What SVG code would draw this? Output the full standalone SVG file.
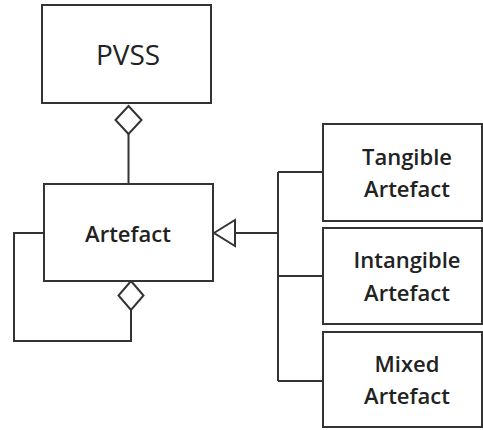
<svg xmlns="http://www.w3.org/2000/svg" width="483" height="430" viewBox="0 0 483 430">
<style>
.box{fill:#fff;stroke:#333;stroke-width:2}
.ln{fill:none;stroke:#333;stroke-width:2}
.hd{fill:#fff;stroke:#333;stroke-width:2}
text{font-family:"Open Sans","Liberation Sans",sans-serif;fill:#222;text-anchor:middle;font-weight:600}
.big{font-size:28px;font-weight:500}
.md{font-size:22px}
</style>
<rect width="483" height="430" fill="#fff"/>
<g id="connectors">
<line class="ln" x1="128.5" y1="134" x2="128.5" y2="184"/>
<polyline class="ln" points="131,310 131,341 14,341 14,233 44,233"/>
<line class="ln" x1="235" y1="233" x2="278" y2="233"/>
<line class="ln" x1="278" y1="172" x2="278" y2="381"/>
<line class="ln" x1="278" y1="172" x2="323" y2="172"/>
<line class="ln" x1="278" y1="276" x2="323" y2="276"/>
<line class="ln" x1="278" y1="381" x2="323" y2="381"/>
<polygon class="hd" points="128.5,106 141.5,120 128.5,134 115.5,120"/>
<polygon class="hd" points="131,281 143.5,295.5 131,310 118.5,295.5"/>
<polygon class="hd" points="214,233 235,220 235,246"/>
</g>
<g id="pvss">
<rect class="box" x="42" y="5" width="169" height="98"/>
<text class="big" x="128" y="65">PVSS</text>
</g>
<g id="artefact">
<rect class="box" x="44" y="184" width="169" height="97"/>
<text class="md" x="128" y="242">Artefact</text>
</g>
<g id="tangible">
<rect class="box" x="323" y="124" width="159" height="97"/>
<text class="md" x="407" y="165">Tangible</text>
<text class="md" x="407" y="197">Artefact</text>
</g>
<g id="intangible">
<rect class="box" x="323" y="228" width="159" height="96"/>
<text class="md" x="407" y="268">Intangible</text>
<text class="md" x="407" y="301">Artefact</text>
</g>
<g id="mixed">
<rect class="box" x="323" y="332" width="159" height="95"/>
<text class="md" x="407" y="372">Mixed</text>
<text class="md" x="407" y="404">Artefact</text>
</g>
</svg>
